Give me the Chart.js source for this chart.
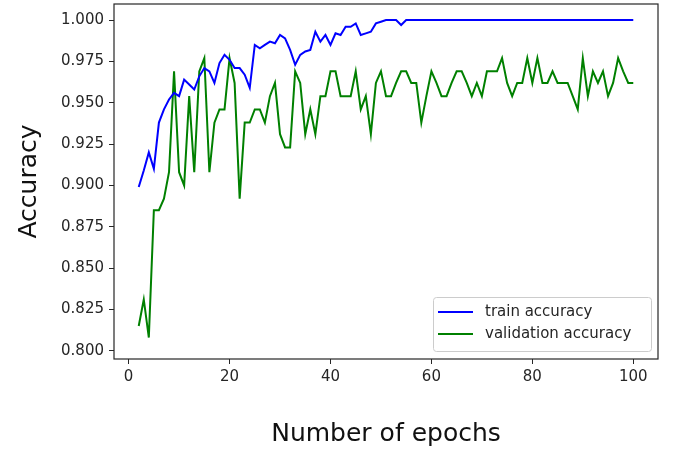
<!DOCTYPE html>
<html>
<head>
    <title>Accuracy vs epochs</title>
    <style>
        body { margin: 0; background: #fff; }
        #chart-container { width: 675px; height: 449px; }
    </style>
</head>
<body>

    <div id="chart-container">
        <canvas id="myChart" width="675" height="449"></canvas>
    </div>

    <script src="https://cdn.jsdelivr.net/npm/chart.js"></script>
    <script>
        // epochs 2..100
        const epochs = [];
        for (let e = 2; e <= 100; e++) epochs.push(e);

        const trainAccuracy = [
            0.899, 0.909, 0.920, 0.910, 0.938, 0.946, 0.952, 0.956, 0.954, 0.964,
            0.961, 0.958, 0.966, 0.971, 0.969, 0.962, 0.974, 0.979, 0.976, 0.971,
            0.971, 0.967, 0.959, 0.985, 0.983, 0.985, 0.987, 0.986, 0.991, 0.989,
            0.982, 0.973, 0.979, 0.981, 0.982, 0.993, 0.987, 0.991, 0.985, 0.992,
            0.991, 0.996, 0.996, 0.998, 0.991, 0.992, 0.993, 0.998, 0.999, 1.000,
            1.000, 1.000, 0.997, 1.000, 1.000, 1.000, 1.000, 1.000, 1.000, 1.000,
            1.000, 1.000, 1.000, 1.000, 1.000, 1.000, 1.000, 1.000, 1.000, 1.000,
            1.000, 1.000, 1.000, 1.000, 1.000, 1.000, 1.000, 1.000, 1.000, 1.000,
            1.000, 1.000, 1.000, 1.000, 1.000, 1.000, 1.000, 1.000, 1.000, 1.000,
            1.000, 1.000, 1.000, 1.000, 1.000, 1.000, 1.000, 1.000, 1.000
        ];

        const validationAccuracy = [
            0.815, 0.831, 0.808, 0.885, 0.885, 0.892, 0.908, 0.969, 0.908, 0.900,
            0.954, 0.908, 0.969, 0.977, 0.908, 0.938, 0.946, 0.946, 0.977, 0.962,
            0.892, 0.938, 0.938, 0.946, 0.946, 0.938, 0.954, 0.962, 0.931, 0.923,
            0.923, 0.969, 0.962, 0.931, 0.946, 0.931, 0.954, 0.954, 0.969, 0.969,
            0.954, 0.954, 0.954, 0.969, 0.946, 0.954, 0.931, 0.962, 0.969, 0.954,
            0.954, 0.962, 0.969, 0.969, 0.962, 0.962, 0.938, 0.954, 0.969, 0.962,
            0.954, 0.954, 0.962, 0.969, 0.969, 0.962, 0.954, 0.962, 0.954, 0.969,
            0.969, 0.969, 0.977, 0.962, 0.954, 0.962, 0.962, 0.977, 0.962, 0.977,
            0.962, 0.962, 0.969, 0.962, 0.962, 0.962, 0.954, 0.946, 0.977, 0.954,
            0.969, 0.962, 0.969, 0.954, 0.962, 0.977, 0.969, 0.962, 0.962
        ];

        const xTicks = [0, 20, 40, 60, 80, 100];
        const yTicks = [0.800, 0.825, 0.850, 0.875, 0.900, 0.925, 0.950, 0.975, 1.000];

        const seriesLabels = ['train accuracy', 'validation accuracy'];

        const tickFont = { family: 'DejaVu Sans', size: 15 };
        const titleFont = { family: 'DejaVu Sans', size: 25 };
        const inkColor = '#262626';

        // рамка вокруг области графика (как spines в matplotlib)
        const frame = {
            id: 'frame',
            afterDatasetsDraw(chart) {
                const { ctx, chartArea: a } = chart;
                ctx.save();
                ctx.strokeStyle = inkColor;
                ctx.lineWidth = 1.2;
                ctx.strokeRect(a.left, a.top, a.right - a.left, a.bottom - a.top);
                ctx.restore();
            }
        };

        // легенда внутри графика, справа снизу
        const insideLegend = {
            id: 'insideLegend',
            afterDraw(chart) {
                const { ctx, chartArea: a } = chart;
                const w = 218, h = 54;
                const x = a.right - 7 - w;
                const y = a.bottom - 8 - h;
                ctx.save();
                ctx.beginPath();
                ctx.roundRect(x + 0.5, y + 0.5, w, h, 3);
                ctx.fillStyle = 'rgba(255,255,255,0.8)';
                ctx.fill();
                ctx.strokeStyle = '#cccccc';
                ctx.lineWidth = 1;
                ctx.stroke();

                ctx.font = '15px "DejaVu Sans"';
                ctx.textBaseline = 'middle';
                chart.data.datasets.forEach((ds, i) => {
                    const ly = y + 15 + i * 22;
                    ctx.beginPath();
                    ctx.moveTo(x + 5, ly);
                    ctx.lineTo(x + 40, ly);
                    ctx.strokeStyle = ds.borderColor;
                    ctx.lineWidth = 2;
                    ctx.stroke();
                    ctx.fillStyle = inkColor;
                    ctx.fillText(ds.label, x + 52, ly);
                });
                ctx.restore();
            }
        };

        const ctx = document.getElementById('myChart').getContext('2d');
        const myChart = new Chart(ctx, {
            type: 'line',
            data: {
                datasets: [
                    {
                        label: seriesLabels[0],
                        data: epochs.map((e, i) => ({ x: e, y: trainAccuracy[i] })),
                        borderColor: '#0000ff',
                        borderWidth: 2,
                        pointRadius: 0,
                        tension: 0,
                        fill: false
                    },
                    {
                        label: seriesLabels[1],
                        data: epochs.map((e, i) => ({ x: e, y: validationAccuracy[i] })),
                        borderColor: '#008000',
                        borderWidth: 2,
                        pointRadius: 0,
                        tension: 0,
                        fill: false
                    }
                ]
            },
            options: {
                responsive: false,
                animation: false,
                layout: { padding: { top: 4, right: 17, left: 0, bottom: 0 } },
                plugins: {
                    legend: { display: false },
                    tooltip: { enabled: false }
                },
                scales: {
                    x: {
                        type: 'linear',
                        min: -2.9,
                        max: 104.9,
                        afterBuildTicks: s => { s.ticks = xTicks.map(v => ({ value: v })); },
                        afterFit: s => { s.height = 90; s.paddingLeft = 0; s.paddingRight = 0; },
                        grid: { display: true, drawOnChartArea: false, drawTicks: true, tickLength: 5, color: inkColor },
                        border: { display: false },
                        ticks: { font: tickFont, color: inkColor, padding: 4, maxRotation: 0 },
                        title: {
                            display: true,
                            text: 'Number of epochs',
                            font: titleFont,
                            color: '#111',
                            padding: { top: 0, bottom: 0 }
                        }
                    },
                    y: {
                        type: 'linear',
                        min: 0.795,
                        max: 1.00975,
                        afterBuildTicks: s => { s.ticks = yTicks.map(v => ({ value: v })); },
                        afterFit: s => { s.width = 114; s.paddingTop = 0; s.paddingBottom = 0; },
                        grid: { display: true, drawOnChartArea: false, drawTicks: true, tickLength: 5, color: inkColor },
                        border: { display: false },
                        ticks: {
                            font: tickFont,
                            color: inkColor,
                            padding: 5,
                            callback: v => v.toFixed(3)
                        },
                        title: {
                            display: true,
                            text: 'Accuracy',
                            font: titleFont,
                            color: '#111',
                            padding: { top: 14, bottom: 0 }
                        }
                    }
                }
            },
            plugins: [frame, insideLegend]
        });
    </script>

</body>
</html>
